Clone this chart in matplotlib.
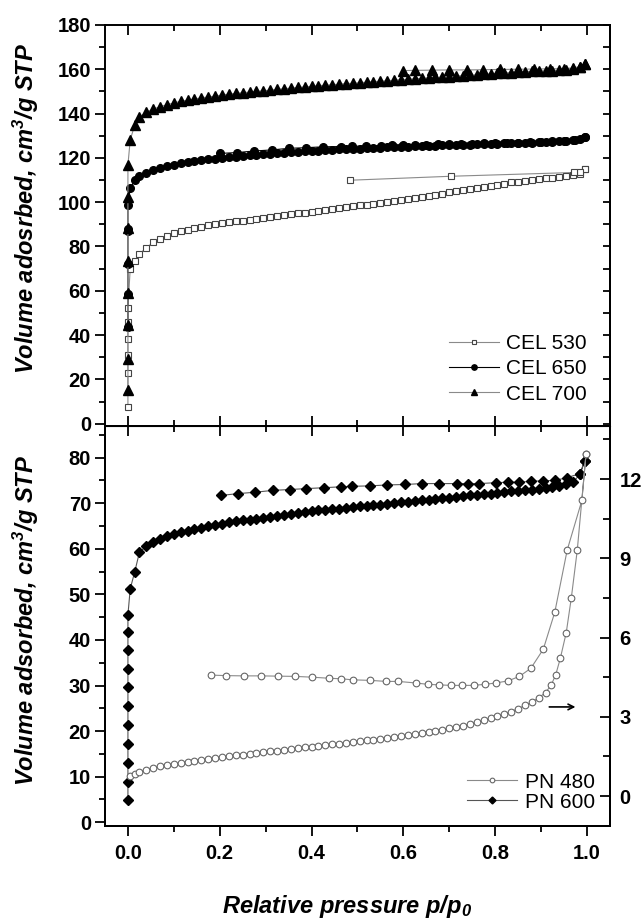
import matplotlib
matplotlib.use('Agg')
import matplotlib.pyplot as plt
from matplotlib.ticker import MultipleLocator

plt.rcParams['font.family'] = ['Liberation Sans', 'DejaVu Sans']
plt.rcParams['font.weight'] = 'bold'
plt.rcParams['mathtext.fontset'] = 'custom'
plt.rcParams['mathtext.rm'] = 'Liberation Sans:bold:italic'
plt.rcParams['mathtext.it'] = 'Liberation Sans:bold:italic'
plt.rcParams['mathtext.bf'] = 'Liberation Sans:bold:italic'

# ---------------- data ----------------
# relative pressures of the adsorption branches
p_ads = [0.005, 0.015, 0.025, 0.04, 0.055, 0.07, 0.085, 0.1, 0.115, 0.13,
         0.145, 0.16, 0.175, 0.19, 0.205, 0.22, 0.235, 0.25, 0.265, 0.28,
         0.295, 0.31, 0.325, 0.34, 0.355, 0.37, 0.385, 0.4, 0.415, 0.43,
         0.445, 0.46, 0.475, 0.49, 0.505, 0.52, 0.535, 0.55, 0.565, 0.58,
         0.595, 0.61, 0.625, 0.64, 0.655, 0.67, 0.685, 0.7, 0.715, 0.73,
         0.745, 0.76, 0.775, 0.79, 0.805, 0.82, 0.835, 0.85, 0.865, 0.88,
         0.895, 0.91, 0.925, 0.94, 0.955, 0.97, 0.985, 0.995]

# CEL 530
cel530_low = [7.5, 23.0, 31.0, 38.4, 46.0, 52.4]
cel530_ads = [70.0, 73.5, 76.5, 79.5, 81.8, 83.5, 84.8, 85.9, 86.8, 87.6,
              88.3, 88.9, 89.5, 90.0, 90.5, 90.9, 91.3, 91.7, 92.1, 92.5,
              92.9, 93.3, 93.7, 94.1, 94.5, 94.9, 95.3, 95.7, 96.1, 96.5,
              96.9, 97.3, 97.7, 98.1, 98.5, 98.9, 99.3, 99.7, 100.1, 100.5,
              100.9, 101.4, 101.9, 102.4, 102.9, 103.4, 103.9, 104.4, 104.9, 105.4,
              105.9, 106.4, 106.9, 107.4, 107.9, 108.4, 108.9, 109.3, 109.7, 110.1,
              110.5, 110.8, 111.1, 111.4, 111.7, 112.2, 112.9, 114.9]
cel530_des_p = [0.995, 0.985, 0.972, 0.704, 0.483]
cel530_des = [114.9, 113.6, 113.4, 111.7, 109.9]

# CEL 650
cel650_low = [43.7, 58.7, 72.3, 86.8, 88.0, 98.7]
cel650_ads = [106.3, 109.9, 111.8, 113.3, 114.5, 115.4, 116.2, 116.9, 117.5, 118.0,
              118.5, 118.9, 119.3, 119.7, 120.0, 120.3, 120.6, 120.9, 121.2, 121.4,
              121.7, 121.9, 122.1, 122.3, 122.5, 122.7, 122.9, 123.1, 123.3, 123.4,
              123.6, 123.8, 123.9, 124.1, 124.2, 124.3, 124.5, 124.6, 124.7, 124.8,
              125.0, 125.1, 125.2, 125.3, 125.4, 125.5, 125.6, 125.7, 125.8, 125.9,
              126.0, 126.1, 126.2, 126.3, 126.4, 126.5, 126.6, 126.7, 126.8, 126.9,
              127.0, 127.1, 127.2, 127.4, 127.6, 127.9, 128.5, 129.5]
cel650_des_p = [0.995, 0.975, 0.95, 0.925, 0.9, 0.875, 0.85, 0.825, 0.8, 0.775,
                0.75, 0.725, 0.7, 0.675, 0.65, 0.625, 0.6, 0.575, 0.551, 0.518,
                0.488, 0.464, 0.426, 0.388, 0.35, 0.314, 0.275, 0.238, 0.2]
cel650_des = [129.5, 128.0, 127.6, 127.4, 127.2, 127.0, 126.9, 126.7, 126.6, 126.5,
              126.4, 126.3, 126.2, 126.1, 126.0, 125.9, 125.8, 125.7, 125.5, 125.4,
              125.2, 125.1, 125.0, 124.6, 124.3, 123.6, 123.1, 122.4, 122.0]

# CEL 700
cel700_low = [15.1, 29.4, 44.5, 59.0, 73.5, 88.5, 102.2, 116.8]
cel700_ads = [128.1, 134.9, 138.5, 140.6, 142.0, 143.1, 144.0, 144.8, 145.5, 146.1,
              146.6, 147.1, 147.5, 147.9, 148.4, 148.8, 149.1, 149.4, 149.7, 150.0,
              150.3, 150.6, 150.9, 151.2, 151.5, 151.8, 152.0, 152.3, 152.6, 152.8,
              153.0, 153.3, 153.5, 153.7, 153.9, 154.2, 154.4, 154.6, 154.8, 155.1,
              155.3, 155.5, 155.7, 155.9, 156.1, 156.3, 156.5, 156.7, 156.9, 157.1,
              157.3, 157.5, 157.7, 157.9, 158.1, 158.3, 158.5, 158.7, 158.9, 159.1,
              159.2, 159.3, 159.4, 159.6, 159.8, 160.2, 161.0, 162.5]
cel700_des_p = [0.995, 0.985, 0.97, 0.95, 0.92, 0.885, 0.85, 0.81, 0.774, 0.738,
                0.7, 0.663, 0.625, 0.6]
cel700_des = [162.5, 161.2, 160.6, 160.3, 160.2, 160.1, 160.0, 159.9, 159.8, 159.7,
              159.7, 159.6, 159.5, 159.4]

# PN 600 (left axis)
pn600_low = [4.8, 8.8, 13.1, 17.2, 21.4, 25.5, 29.6, 33.7, 37.7, 41.7, 45.5]
pn600_ads = [51.2, 55.0, 59.2, 60.6, 61.5, 62.1, 62.7, 63.2, 63.6, 64.0,
             64.3, 64.6, 64.9, 65.2, 65.5, 65.8, 66.0, 66.2, 66.4, 66.6,
             66.8, 67.0, 67.2, 67.4, 67.6, 67.8, 68.0, 68.2, 68.4, 68.5,
             68.7, 68.8, 69.0, 69.1, 69.3, 69.4, 69.6, 69.7, 69.9, 70.0,
             70.2, 70.3, 70.5, 70.6, 70.8, 70.9, 71.1, 71.2, 71.4, 71.5,
             71.7, 71.8, 72.0, 72.1, 72.3, 72.4, 72.6, 72.7, 72.9, 73.0,
             73.2, 73.4, 73.6, 73.8, 74.2, 74.7, 76.3, 79.2]
pn600_des_p = [0.995, 0.985, 0.957, 0.93, 0.905, 0.878, 0.853, 0.828, 0.803, 0.765,
               0.74, 0.716, 0.678, 0.641, 0.604, 0.565, 0.528, 0.489, 0.465, 0.428,
               0.389, 0.353, 0.315, 0.277, 0.24, 0.203]
pn600_des = [79.2, 76.5, 75.6, 75.0, 74.9, 74.8, 74.6, 74.6, 74.5, 74.3,
             74.3, 74.3, 74.3, 74.3, 74.1, 74.0, 73.8, 73.7, 73.6, 73.4,
             73.2, 73.0, 72.8, 72.4, 72.1, 71.7]

# PN 480 (right axis)
pn480_ads_p = [0.005, 0.015, 0.025, 0.04, 0.055, 0.07, 0.085, 0.1, 0.115, 0.13,
               0.145, 0.16, 0.175, 0.19, 0.205, 0.22, 0.235, 0.25, 0.265, 0.28,
               0.295, 0.31, 0.325, 0.34, 0.355, 0.37, 0.385, 0.4, 0.415, 0.43,
               0.445, 0.46, 0.475, 0.49, 0.505, 0.52, 0.535, 0.55, 0.565, 0.58,
               0.595, 0.61, 0.625, 0.64, 0.655, 0.67, 0.685, 0.7, 0.715, 0.73,
               0.745, 0.76, 0.775, 0.79, 0.805, 0.82, 0.835, 0.85, 0.865, 0.88,
               0.895, 0.91, 0.922, 0.932, 0.942, 0.955, 0.966, 0.979, 0.998]
pn480_ads = [0.75, 0.84, 0.92, 1.00, 1.07, 1.12, 1.17, 1.21, 1.25, 1.29,
             1.33, 1.37, 1.40, 1.44, 1.47, 1.51, 1.54, 1.57, 1.60, 1.63,
             1.66, 1.69, 1.72, 1.75, 1.78, 1.81, 1.84, 1.87, 1.90, 1.93,
             1.96, 1.99, 2.02, 2.05, 2.08, 2.11, 2.14, 2.17, 2.20, 2.24,
             2.28, 2.32, 2.36, 2.40, 2.44, 2.48, 2.52, 2.57, 2.62, 2.67,
             2.73, 2.80, 2.87, 2.95, 3.03, 3.11, 3.20, 3.31, 3.43, 3.56,
             3.72, 3.92, 4.20, 4.59, 5.21, 6.19, 7.50, 9.31, 12.94]
pn480_des_p = [0.998, 0.989, 0.957, 0.930, 0.905, 0.878, 0.853, 0.828, 0.801, 0.778,
               0.753, 0.728, 0.703, 0.678, 0.653, 0.628, 0.589, 0.563, 0.528, 0.49,
               0.465, 0.438, 0.402, 0.365, 0.327, 0.29, 0.252, 0.213, 0.181]
pn480_des = [12.94, 11.19, 9.31, 6.96, 5.56, 4.84, 4.53, 4.36, 4.28, 4.23,
             4.19, 4.19, 4.19, 4.21, 4.23, 4.28, 4.34, 4.34, 4.38, 4.40,
             4.44, 4.46, 4.50, 4.53, 4.54, 4.55, 4.55, 4.56, 4.58]

# ---------------- figure ----------------
fig = plt.figure(figsize=(6.44, 9.21), dpi=100)
ax1 = fig.add_axes([0.163, 0.5378, 0.784, 0.4351])
ax2 = fig.add_axes([0.163, 0.1035, 0.784, 0.4343])

lw = 0.8
gray = '#8a8a8a'
tsize = 14.5   # tick labels

def series(ax, low, ads, des_p, des, **kw):
    x = [0.0] * len(low) + p_ads[:len(ads)] + des_p
    y = low + ads + des
    return ax.plot(x, y, **kw)[0]

h530 = series(ax1, cel530_low, cel530_ads, cel530_des_p, cel530_des,
              color=gray, lw=lw, marker='s', ms=4.8, mfc='white', mec='#444444',
              mew=0.8, label='CEL 530')
h650 = series(ax1, cel650_low, cel650_ads, cel650_des_p, cel650_des,
              color='black', lw=lw, marker='o', ms=5.5, mfc='black', mec='black',
              label='CEL 650')
h700 = series(ax1, cel700_low, cel700_ads, cel700_des_p, cel700_des,
              color=gray, lw=lw, marker='^', ms=6.5, mfc='black', mec='black',
              label='CEL 700')

h600 = series(ax2, pn600_low, pn600_ads, pn600_des_p, pn600_des,
              color='#555555', lw=lw, marker='D', ms=5, mfc='black', mec='black',
              label='PN 600')
axr = ax2.twinx()
h480, = axr.plot(pn480_ads_p + pn480_des_p, pn480_ads + pn480_des,
                 color=gray, lw=lw, marker='o', ms=4.8, mfc='white', mec='#666666',
                 mew=0.8, label='PN 480')

# arrow pointing to the right axis
ax2.annotate('', xy=(0.975, 25.3), xytext=(0.918, 25.3),
             arrowprops=dict(arrowstyle='->', lw=1.2, color='black',
                             shrinkA=0, shrinkB=0))

# ---------------- axes styling ----------------
for ax in (ax1, ax2, axr):
    for s in ax.spines.values():
        s.set_linewidth(1.4)

for ax in (ax1, ax2):
    ax.set_xlim(-0.05, 1.05)
    ax.xaxis.set_major_locator(MultipleLocator(0.2))
    ax.xaxis.set_minor_locator(MultipleLocator(0.1))
    ax.tick_params(axis='y', which='both', direction='out', right=False,
                   width=1.3, labelsize=tsize, pad=3)
    ax.tick_params(axis='y', which='major', length=7)
    ax.tick_params(axis='y', which='minor', length=4.5)

ax1.set_ylim(-0.9, 180)
ax1.yaxis.set_major_locator(MultipleLocator(20))
ax1.yaxis.set_minor_locator(MultipleLocator(10))
ax1.tick_params(axis='x', which='both', direction='in', top=True, bottom=True,
                labelbottom=False, width=1.3)
ax1.tick_params(axis='x', which='major', length=7)
ax1.tick_params(axis='x', which='minor', length=4.5)
sec1 = ax1.secondary_yaxis('right')
sec1.yaxis.set_major_locator(MultipleLocator(10))
sec1.tick_params(axis='y', direction='in', length=5, width=1.3, labelright=False)
sec1.spines['right'].set_linewidth(1.4)

ax2.set_ylim(-0.75, 87)
ax2.yaxis.set_major_locator(MultipleLocator(10))
ax2.yaxis.set_minor_locator(MultipleLocator(5))
ax2.tick_params(axis='x', which='both', direction='out', top=False,
                width=1.3, labelsize=tsize, pad=6)
ax2.tick_params(axis='x', which='major', length=7)
ax2.tick_params(axis='x', which='minor', length=4)
ax2.set_xticks([0.0, 0.2, 0.4, 0.6, 0.8, 1.0])
ax2.set_xticklabels(['0.0', '0.2', '0.4', '0.6', '0.8', '1.0'])
sec2 = ax2.secondary_xaxis('top')
sec2.xaxis.set_major_locator(MultipleLocator(0.2))
sec2.xaxis.set_minor_locator(MultipleLocator(0.1))
sec2.tick_params(axis='x', which='both', direction='in', width=1.3, labeltop=False)
sec2.tick_params(axis='x', which='major', length=7)
sec2.tick_params(axis='x', which='minor', length=4.5)

axr.set_ylim(-1.12, 14.02)
axr.yaxis.set_major_locator(MultipleLocator(3))
axr.yaxis.set_minor_locator(MultipleLocator(1.5))
axr.tick_params(axis='y', which='both', direction='in', width=1.3,
                labelsize=tsize, pad=7)
axr.tick_params(axis='y', which='major', length=7)
axr.tick_params(axis='y', which='minor', length=5)

# ---------------- labels ----------------
fig.text(0.040, 0.774, 'Volume adosrbed, cm$^3$/g STP', rotation=90,
         ha='center', va='center', fontsize=17, fontweight='bold', style='italic')
fig.text(0.040, 0.326, 'Volume adsorbed, cm$^3$/g STP', rotation=90,
         ha='center', va='center', fontsize=17, fontweight='bold', style='italic')
fig.text(0.539, 0.0087, 'Relative pressure p/p$_0$', ha='center', va='baseline',
         fontsize=17, fontweight='bold', style='italic')

# ---------------- legends ----------------
ax1.legend(handles=[h530, h650, h700], loc='lower right',
           bbox_to_anchor=(0.955, 0.055), frameon=False,
           prop=dict(family='Liberation Sans', weight='normal', size=15),
           handlelength=2.4, handletextpad=0.35, labelspacing=0.3,
           borderpad=0, borderaxespad=0, markerscale=0.7)
axr.legend(handles=[h480, h600], loc='lower right',
           bbox_to_anchor=(0.97, 0.035), frameon=False,
           prop=dict(family='Liberation Sans', weight='normal', size=15),
           handlelength=2.4, handletextpad=0.35, labelspacing=0.05,
           borderpad=0, borderaxespad=0, markerscale=0.7)

fig.savefig('out.png', dpi=100)
